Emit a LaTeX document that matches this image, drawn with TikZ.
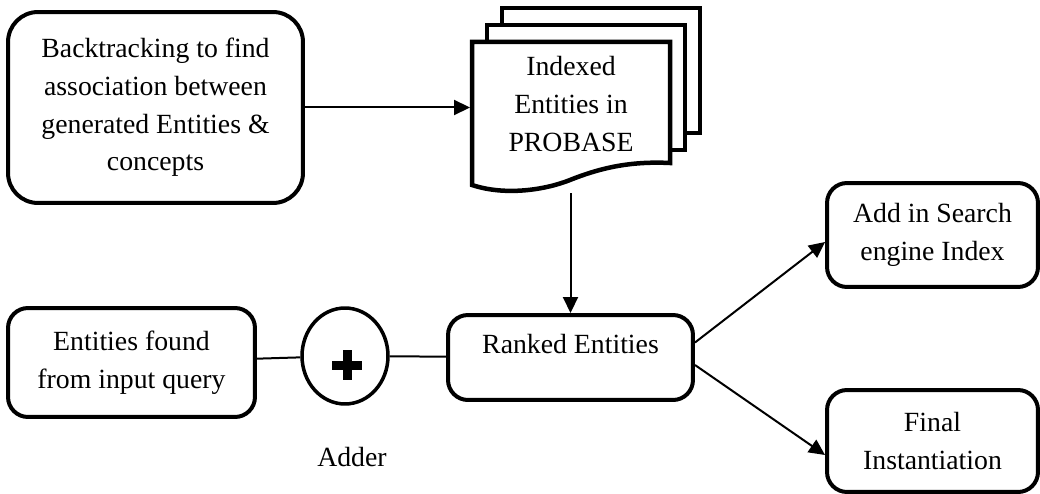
\documentclass[tikz,border=0pt]{standalone}
\usepackage{fontspec}
\setmainfont{Liberation Serif}
\usetikzlibrary{arrows.meta,shapes.geometric}

\begin{document}
\begin{tikzpicture}[x=0.02cm, y=-0.02cm,
  box/.style={draw, line width=0.08cm, rounded corners=0.4cm, inner sep=0pt, align=center,
    font=\fontsize{15.8pt}{21.5pt}\selectfont},
  page/.style={draw, line width=0.09cm, fill=white},
  conn/.style={line width=0.04cm},
  arr/.style={conn, -{Triangle[length=0.32cm,width=0.3cm]}}]

\useasboundingbox (0,0) rectangle (1040,493);

\node[box, rounded corners=0.6cm, minimum width=5.9cm, minimum height=3.82cm] (bt) at (155.5,107.5)
  {Backtracking to find\\association between\\generated Entities \&\\concepts};

% stack of pages
\draw[page] (502,8) rectangle (700,133);
\draw[page] (487,25) rectangle (685,150);
\draw[page] (472,42) -- (670,42) -- (670,163)
  .. controls (630,161) and (600,168) .. (570,180)
  .. controls (545,190) and (505,196) .. (472,185) -- cycle;
\node[box, draw=none, minimum width=3.96cm] (idx) at (571,104) {Indexed\\Entities in\\PROBASE};
\coordinate (docb) at (570.5,193);

\draw[arr] (bt.east) -- (bt.east -| idx.west);


% lower row
\node[box, minimum width=4.94cm, minimum height=2.18cm] (efq) at (131.5,362.5)
  {Entities found\\from input query};
\node[draw, ellipse, line width=0.07cm, minimum width=1.72cm, minimum height=1.92cm, inner sep=0pt] (adder) at (345,356) {};
\draw[line width=0.18cm] ([shift={(2,9)}]adder.center) ++(-15,0) -- ++(30,0);
\draw[line width=0.18cm] ([shift={(2,9)}]adder.center) ++(0,-15) -- ++(0,30);
\node[box, draw=none] (addlbl) at (352,457) {Adder};
\node[box, minimum width=4.9cm, minimum height=1.7cm] (rank) at (570.5,357.5)
  {Ranked Entities\\[-5.6pt]\phantom{R}};

\draw[conn] (efq) -- (adder);
\draw[conn] (adder) -- (rank);
\draw[arr] (docb) -- (rank.north);


% right ones
\node[box, minimum width=4.22cm, minimum height=2.08cm] (add) at (932.5,235)
  {Add in Search\\engine Index};
\node[box, minimum width=4.22cm, minimum height=2.04cm] (fin) at (932.5,441)
  {Final\\Instantiation};

\draw[arr] ([yshift=0.3cm]rank.east) -- ([yshift=-0.14cm]add.west);
\draw[arr] ([yshift=-0.15cm]rank.east) -- ([yshift=-0.28cm]fin.west);

\end{tikzpicture}
\end{document}
